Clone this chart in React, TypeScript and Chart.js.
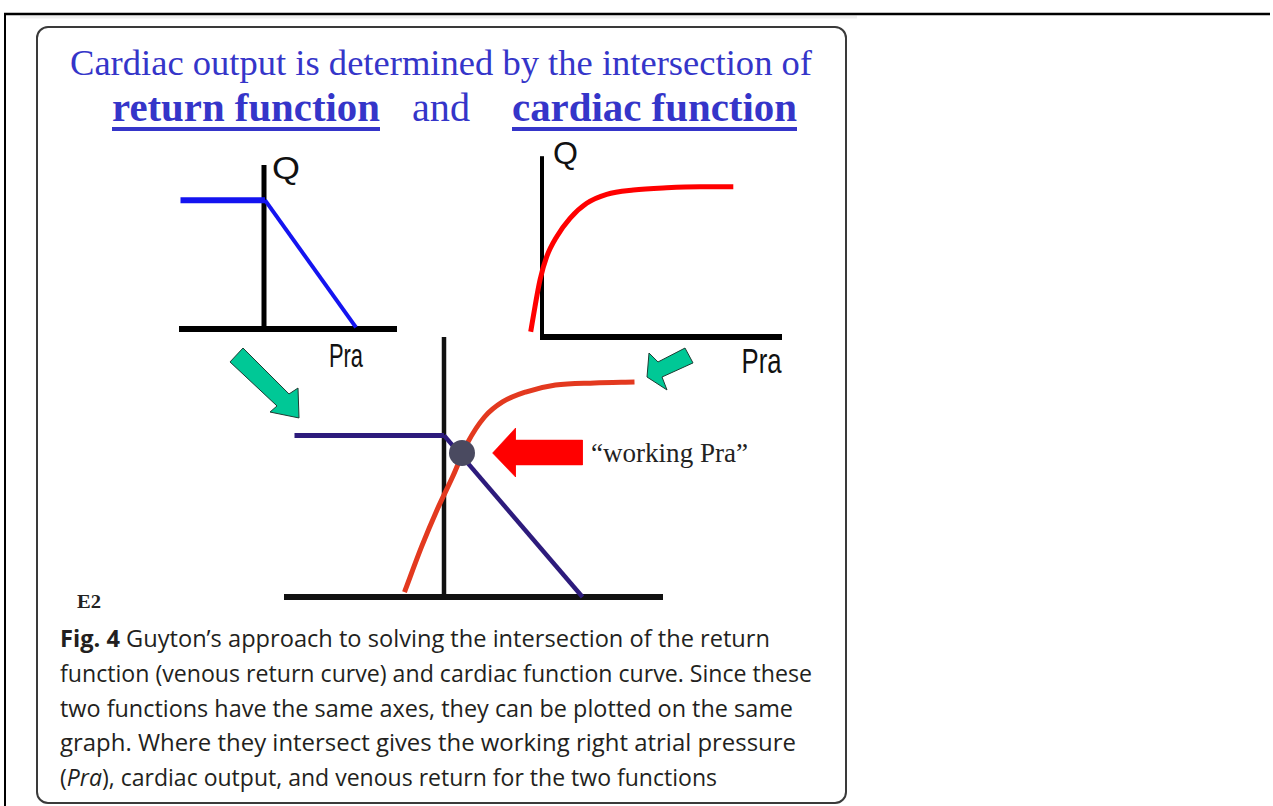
import React, { useEffect, useRef } from "react";
import { Chart, registerables } from "chart.js";

Chart.register(...registerables);

// ---------------- data (Pra = right atrial pressure, Q = flow) ----------------
// Panel 1: return function
const returnFlatPra = [-8.35, 0.1];
const returnFlatQ = [8.05, 8.05];
const returnSlopePra = [0.1, 9.2];
const returnSlopeQ = [8.05, 0.1];
const returnAxisPra = [-8.5, 13.3];
const returnAxisQ = [-0.15, 10.25];

// Panel 2: cardiac function
const cardiacPra = [-1.13, -0.7, -0.2, 0.47, 1.47, 2.8, 4.47, 6.47, 9.13, 12.47, 15.8, 19.13];
const cardiacQ = [0.33, 1.9, 3.56, 5.02, 6.27, 7.42, 8.36, 8.92, 9.19, 9.33, 9.39, 9.39];
const cardiacAxisPra = [-0.2, 24];
const cardiacAxisQ = [-0.15, 11.3];

// Panel 3: both functions on the same axes
const bothReturnFlatPra = [-14.95, 0];
const bothReturnFlatQ = [10.1, 10.1];
const bothReturnSlopePra = [0, 13.85];
const bothReturnSlopeQ = [10.1, 0];
const bothCardiacPra = [-3.95, -2.25, -0.7, 0.85, 2.35, 4.05, 5.85, 8.15, 11.15, 15.05, 19.05];
const bothCardiacQ = [0.31, 3.13, 5.44, 7.5, 9.63, 11.25, 12.19, 12.81, 13.25, 13.38, 13.44];
const bothAxisPra = [-16, 21.9];
const bothAxisQ = [0, 16.25];
const workingPra = [1.8];
const workingQ = [9.0];

// Arrows (outline vertices in panel-3 units)
const redArrowPra = [4.85, 7.15, 7.15, 13.85, 13.85, 7.15, 7.15, 4.85];
const redArrowQ = [9.0, 10.56, 9.81, 9.81, 8.25, 8.25, 7.5, 9.0];
const greenLeftPra = [-21.4, -20.1, -15.5, -14.6, -14.5, -17.4, -16.7, -21.4];
const greenLeftQ = [14.69, 15.56, 12.69, 13.06, 11.19, 11.56, 11.94, 14.69];
const greenRightPra = [24.1, 24.9, 21.8, 22.3, 20.3, 20.5, 21.4, 24.1];
const greenRightQ = [15.56, 14.63, 13.75, 12.94, 13.75, 15.25, 14.69, 15.56];

// Texts
const titleLine1 = "Cardiac output is determined by the intersection of";
const titleReturn = "return function";
const titleAnd = "and";
const titleCardiac = "cardiac function";
const axisQ = "Q";
const axisPra = "Pra";
const workingLabel = "\u201Cworking Pra\u201D";
const panelTag = "E2";

// ---------------- helpers ----------------
const pts = (xs: number[], ys: number[]) => xs.map((x, i) => ({ x, y: ys[i] }));

const seg = (xs: number[], ys: number[], color: string, width: number, extra: any = {}) => ({
  data: pts(xs, ys),
  showLine: true,
  borderColor: color,
  borderWidth: width,
  pointRadius: 0,
  pointHoverRadius: 0,
  fill: false,
  tension: 0,
  borderCapStyle: "butt",
  borderJoinStyle: "miter",
  ...extra,
});

const curve = (xs: number[], ys: number[], color: string, width: number) =>
  seg(xs, ys, color, width, { cubicInterpolationMode: "monotone", borderCapStyle: "butt", borderJoinStyle: "round" });

const shape = (xs: number[], ys: number[], fillColor: string, stroke: string, width: number) =>
  seg(xs, ys, stroke, width, { fill: "shape", backgroundColor: fillColor, borderJoinStyle: "miter" });

type PanelProps = {
  left: number;
  top: number;
  width: number;
  height: number;
  xMin: number;
  xMax: number;
  yMin: number;
  yMax: number;
  datasets: any[];
};

function Panel({ left, top, width, height, xMin, xMax, yMin, yMax, datasets }: PanelProps) {
  const ref = useRef<HTMLCanvasElement | null>(null);
  useEffect(() => {
    if (!ref.current) return;
    const chart = new Chart(ref.current, {
      type: "line",
      data: { datasets },
      options: {
        animation: false,
        responsive: false,
        maintainAspectRatio: false,
        events: [],
        layout: { padding: 0, autoPadding: false },
        plugins: {
          legend: { display: false },
          tooltip: { enabled: false },
          title: { display: false },
        },
        scales: {
          x: { type: "linear", min: xMin, max: xMax, display: false },
          y: { type: "linear", min: yMin, max: yMax, display: false },
        },
      } as any,
    });
    return () => chart.destroy();
  }, []);
  return (
    <canvas
      ref={ref}
      width={width}
      height={height}
      style={{ position: "absolute", left, top, width, height }}
    />
  );
}

const SERIF = "'Liberation Serif', 'Times New Roman', serif";
const SANS = "'Liberation Sans', Arial, sans-serif";
const CAPTION = "'Open Sans', 'Noto Sans', sans-serif";
const TITLE_BLUE = "#3535c9";
const CAP_COLOR = "#231f20";

export default function App() {
  const panel1 = [
    seg(returnFlatPra, returnFlatQ, "#1414f0", 6),
    seg(returnSlopePra, returnSlopeQ, "#1414f0", 4),
    seg(returnAxisPra, [0, 0], "#000", 6),
    seg([0, 0], returnAxisQ, "#000", 5),
  ];
  const panel2 = [
    curve(cardiacPra, cardiacQ, "#ff0000", 5),
    seg(cardiacAxisPra, [0, 0], "#000", 6),
    seg([0, 0], cardiacAxisQ, "#000", 4),
  ];
  const panel3 = [
    {
      data: pts(workingPra, workingQ),
      showLine: false,
      pointRadius: 13,
      pointHoverRadius: 13,
      pointBackgroundColor: "#4a4a60",
      pointBorderColor: "#4a4a60",
      pointBorderWidth: 0,
    },
    shape(redArrowPra, redArrowQ, "#ff0000", "#ff0000", 0.5),
    shape(greenLeftPra, greenLeftQ, "#00c896", "#1d3b32", 1),
    shape(greenRightPra, greenRightQ, "#00c896", "#1d3b32", 1),
    curve(bothCardiacPra, bothCardiacQ, "#e3391f", 5),
    seg(bothReturnFlatPra, bothReturnFlatQ, "#2d1b7c", 5),
    seg(bothReturnSlopePra, bothReturnSlopeQ, "#2d1b7c", 4.5),
    seg(bothAxisPra, [0, 0], "#111", 6),
    seg([0, 0], bothAxisQ, "#111", 4.5),
  ];

  const captionLines: { y: number; w: number; content: React.ReactNode }[] = [
    {
      y: 647,
      w: 710,
      content: (
        <>
          <tspan fontWeight={700}>{"Fig. 4"}</tspan>
          {" Guyton\u2019s approach to solving the intersection of the return"}
        </>
      ),
    },
    { y: 681.8, w: 752, content: "function (venous return curve) and cardiac function curve. Since these" },
    { y: 716.6, w: 733, content: "two functions have the same axes, they can be plotted on the same" },
    { y: 751.4, w: 736, content: "graph. Where they intersect gives the working right atrial pressure" },
    {
      y: 786.2,
      w: 657,
      content: (
        <>
          {"("}
          <tspan fontStyle="italic">{"Pra"}</tspan>
          {"), cardiac output, and venous return for the two functions"}
        </>
      ),
    },
  ];

  return (
    <div style={{ position: "absolute", left: 0, top: 0, width: 1273, height: 806, overflow: "hidden", background: "#fff" }}>
      <svg width={1273} height={806} style={{ position: "absolute", left: 0, top: 0 }}>
        <rect x={20} y={15.5} width={837} height={3} fill="#efefef" />
        <line x1={4} y1={14} x2={1270} y2={14} stroke="#000" strokeWidth={2.5} />
        <line x1={5} y1={13} x2={5} y2={806} stroke="#000" strokeWidth={2} />
        <rect x={37} y={27} width={809} height={776} rx={11} ry={11} fill="none" stroke="#3a3a3a" strokeWidth={2} />

        <text x={70} y={75} fontFamily={SERIF} fontSize={36.5} fill={TITLE_BLUE} textLength={742} lengthAdjust="spacingAndGlyphs">
          {titleLine1}
        </text>
        <text x={112} y={121} fontFamily={SERIF} fontSize={40.7} fontWeight={700} fill={TITLE_BLUE} textLength={268} lengthAdjust="spacingAndGlyphs">
          {titleReturn}
        </text>
        <rect x={112} y={127} width={268} height={4} fill={TITLE_BLUE} />
        <text x={412} y={121} fontFamily={SERIF} fontSize={40.7} fill={TITLE_BLUE} textLength={58} lengthAdjust="spacingAndGlyphs">
          {titleAnd}
        </text>
        <text x={512} y={121} fontFamily={SERIF} fontSize={40.7} fontWeight={700} fill={TITLE_BLUE} textLength={285} lengthAdjust="spacingAndGlyphs">
          {titleCardiac}
        </text>
        <rect x={512} y={127} width={285} height={4} fill={TITLE_BLUE} />

        <text x={272} y={179} fontFamily={SANS} fontSize={31} fill="#111" textLength={28} lengthAdjust="spacingAndGlyphs">
          {axisQ}
        </text>
        <text x={329} y={366.5} fontFamily={SANS} fontSize={34} fill="#111" textLength={34} lengthAdjust="spacingAndGlyphs">
          {axisPra}
        </text>
        <text x={553} y={163.5} fontFamily={SANS} fontSize={31} fill="#111" textLength={25} lengthAdjust="spacingAndGlyphs">
          {axisQ}
        </text>
        <text x={741.5} y={373} fontFamily={SANS} fontSize={35} fill="#111" textLength={40} lengthAdjust="spacingAndGlyphs">
          {axisPra}
        </text>

        <text x={591} y={462} fontFamily={SERIF} fontSize={26.5} fill="#222" textLength={157} lengthAdjust="spacingAndGlyphs">
          {workingLabel}
        </text>

        <text x={77} y={608} fontFamily={SERIF} fontSize={19} fontWeight={700} fill="#222" textLength={24} lengthAdjust="spacingAndGlyphs">
          {panelTag}
        </text>

        {captionLines.map((l, i) => (
          <text key={i} x={60} y={l.y} fontFamily={CAPTION} fontSize={23.5} fill={CAP_COLOR} textLength={l.w} lengthAdjust="spacingAndGlyphs">
            {l.content}
          </text>
        ))}
      </svg>

      <Panel left={164} top={137} width={250} height={224} xMin={-10} xMax={15} yMin={-2} yMax={12} datasets={panel1} />
      <Panel left={502} top={129} width={300} height={240} xMin={-4} xMax={26} yMin={-2} yMax={13} datasets={panel2} />
      <Panel left={204} top={317} width={600} height={304} xMin={-24} xMax={36} yMin={-1.5} yMax={17.5} datasets={panel3} />
    </div>
  );
}
